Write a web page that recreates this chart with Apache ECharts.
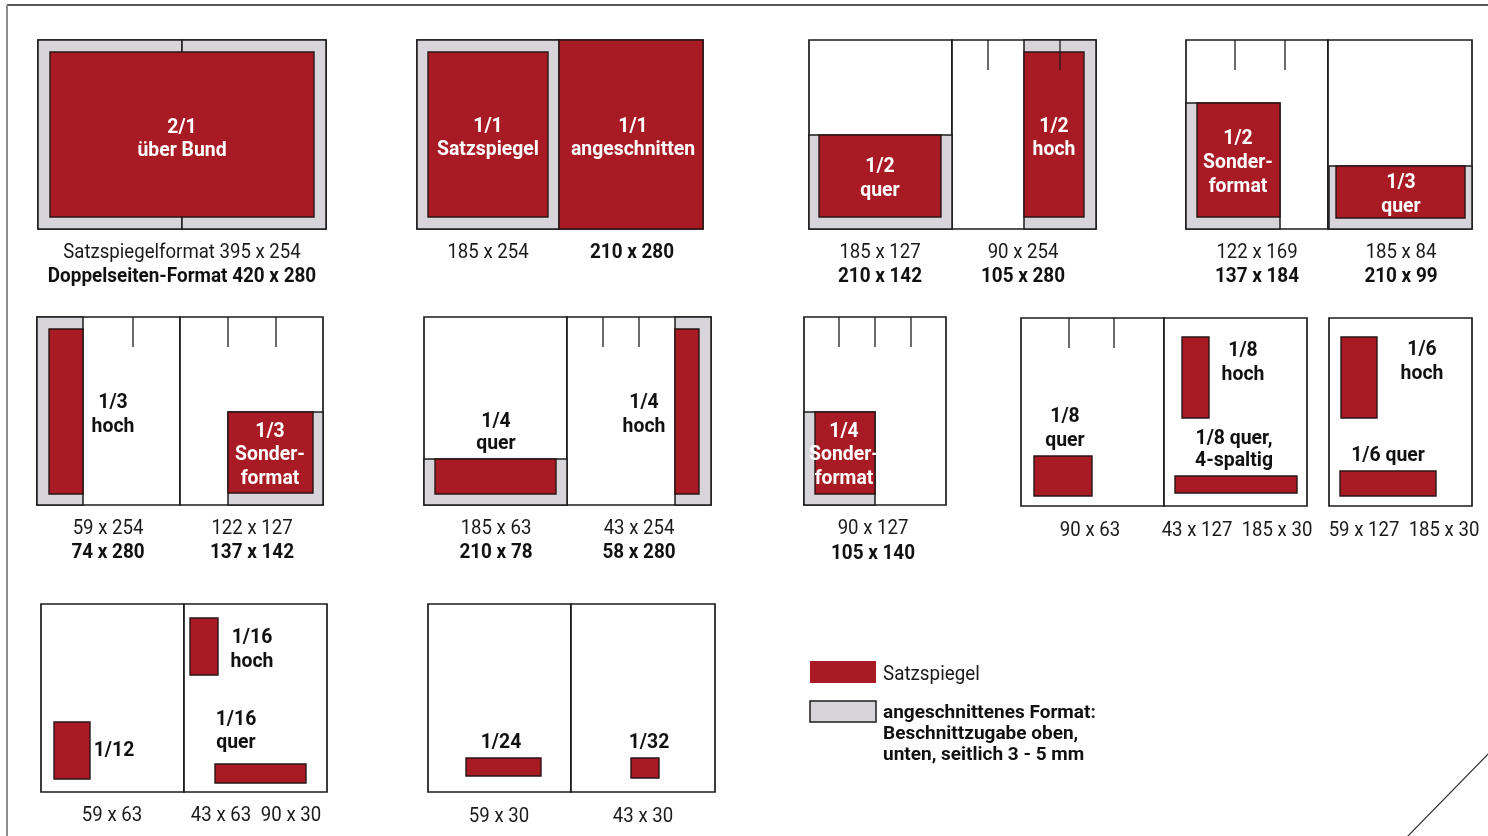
<!DOCTYPE html>
<html><head><meta charset="utf-8">
<script src="https://cdn.jsdelivr.net/npm/echarts@6/dist/echarts.min.js"></script>
<style>html,body{margin:0;padding:0;background:#fff}#c{width:1488px;height:836px}</style>
</head><body><div id="c"></div>
<script>
// ---- diagram data (units = layout grid of the sheet) ----
const pages = [
  [38,40,182,229],[182,40,326,229],
  [417,40,559,229],[559,40,703,229],
  [809,40,952,229],[952,40,1096,229],
  [1186,40,1328,229],[1328,40,1472,229],
  [37,317,180,505],[180,317,323,505],
  [424,317,567,505],[567,317,711,505],
  [804,317,946,505],
  [1021,318,1164,506],[1164,318,1307,506],
  [1329,318,1472,506],
  [41,604,184,792],[184,604,327,792],
  [428,604,571,792],[571,604,715,792]
];
const bleedAreas = [
  [38,40,182,229],[182,40,326,229],
  [417,40,559,229],
  [809,135,952,229],
  [1024,40,1096,229],
  [1186,103,1280,229],
  [1329,166,1472,229],
  [37,317,83,505],
  [228,412,323,505],
  [424,459,567,505],
  [675,317,711,505],
  [804,412,875,505]
];
const typeAreas = [
  [50,52,314,217],
  [428,52,548,217],
  [559,40,703,229],
  [819,135,941,217],
  [1024,52,1084,217],
  [1197,103,1280,217],
  [1336,166,1465,218],
  [49,329,83,494],
  [228,412,313,493],
  [435,459,556,494],
  [675,329,699,494],
  [815,412,875,494],
  [1034,456,1092,496],
  [1182,337,1209,418],
  [1175,476,1297,493],
  [1341,337,1377,418],
  [1340,471,1436,496],
  [54,722,90,779],
  [190,618,218,675],
  [215,764,306,783],
  [466,758,541,776],
  [631,758,659,778]
];
const columnTicks = [
  [988,40,70],[1060,40,70],
  [1235,40,70],[1285,40,70],
  [133,317,347],[228,317,347],[276,317,347],
  [603,317,347],[639,317,347],
  [839,317,347],[875,317,347],[911,317,347],
  [1069,318,348],[1114,318,348]
];
const labelsOnRed = [
  [182,133,"2/1"],[182,156,"über Bund"],
  [488,132,"1/1"],[488,155,"Satzspiegel"],
  [633,132,"1/1"],[633,155,"angeschnitten"],
  [880,172,"1/2"],[880,196,"quer"],
  [1054,132,"1/2"],[1054,155,"hoch"],
  [1238,144,"1/2"],[1238,168,"Sonder-"],[1238,192,"format"],
  [1401,188,"1/3"],[1401,212,"quer"],
  [270,437,"1/3"],[270,460,"Sonder-"],[270,484,"format"],
  [844,437,"1/4"],[844,460,"Sonder-"],[844,484,"format"]
];
const labelsOnPage = [
  [113,408,"1/3"],[113,432,"hoch"],
  [496,427,"1/4"],[496,449,"quer"],
  [644,408,"1/4"],[644,432,"hoch"],
  [1065,422,"1/8"],[1065,446,"quer"],
  [1243,356,"1/8"],[1243,380,"hoch"],
  [1234,444,"1/8 quer,"],[1234,466,"4-spaltig"],
  [1422,355,"1/6"],[1422,379,"hoch"],
  [1388,461,"1/6 quer"],
  [114,756,"1/12"],
  [252,643,"1/16"],[252,667,"hoch"],
  [236,725,"1/16"],[236,748,"quer"],
  [501,748,"1/24"],
  [649,748,"1/32"]
];
const typeSizeLabels = [
  [182,258,"Satzspiegelformat 395 x 254"],
  [488,258,"185 x 254"],
  [880,258,"185 x 127"],[1023,258,"90 x 254"],
  [1257,258,"122 x 169"],[1401,258,"185 x 84"],
  [108,534,"59 x 254"],[252,534,"122 x 127"],
  [496,534,"185 x 63"],[639,534,"43 x 254"],
  [873,534,"90 x 127"],
  [1090,536,"90 x 63"],[1197,536,"43 x 127"],[1277,536,"185 x 30"],
  [1364,536,"59 x 127"],[1444,536,"185 x 30"],
  [112,821,"59 x 63"],[221,821,"43 x 63"],[291,821,"90 x 30"],
  [499,822,"59 x 30"],[643,822,"43 x 30"]
];
const trimSizeLabels = [
  [182,282,"Doppelseiten-Format 420 x 280"],
  [632,258,"210 x 280"],
  [880,282,"210 x 142"],[1023,282,"105 x 280"],
  [1257,282,"137 x 184"],[1401,282,"210 x 99"],
  [108,558,"74 x 280"],[252,558,"137 x 142"],
  [496,558,"210 x 78"],[639,558,"58 x 280"],
  [873,559,"105 x 140"]
];
const legendTypeSwatch = [[810,661,876,683]];
const legendBleedSwatch = [[810,701,876,722]];
const legendTypeText = [[883,680,"Satzspiegel"]];
const legendBleedText = [[883,718,"angeschnittenes Format:"],[883,739,"Beschnittzugabe oben,"],[883,760,"unten, seitlich 3 - 5 mm"]];
const frameTop = [[7,5,1488,5]];
const frameLeft = [[7,5,7,836]];
const cornerCut = [[1407,837,1491,751]];

// ---- rendering ----
const RED = '#a91b24', GREY = '#d7d5da', INK = '#1c1c1c';
const FONT = 'Roboto, "Liberation Sans", sans-serif';

function rectSeries(arr, style, z) {
  return {
    type: 'custom', coordinateSystem: 'cartesian2d', z: z, silent: true,
    data: arr.map(r => [r[0], r[1], r[2], r[3]]),
    encode: { x: [0, 2], y: [1, 3] },
    renderItem: function (params, api) {
      const a = api.coord([api.value(0), api.value(1)]);
      const b = api.coord([api.value(2), api.value(3)]);
      return { type: 'rect', shape: { x: a[0], y: a[1], width: b[0] - a[0], height: b[1] - a[1] }, style: style };
    }
  };
}
function lineSeries(arr, style, z) {
  return {
    type: 'custom', coordinateSystem: 'cartesian2d', z: z, silent: true,
    data: arr.map(r => [r[0], r[1], r[2], r[3]]),
    encode: { x: [0, 2], y: [1, 3] },
    renderItem: function (params, api) {
      const a = api.coord([api.value(0), api.value(1)]);
      const b = api.coord([api.value(2), api.value(3)]);
      return { type: 'line', shape: { x1: a[0], y1: a[1], x2: b[0], y2: b[1] }, style: style };
    }
  };
}
function textSeries(arr, opt, z) {
  return {
    type: 'custom', coordinateSystem: 'cartesian2d', z: z, silent: true,
    data: arr.map(r => [r[0], r[1]]),
    encode: { x: 0, y: 1 },
    renderItem: function (params, api) {
      const p = api.coord([api.value(0), api.value(1)]);
      return {
        type: 'text', x: p[0], y: p[1] - 0.25 * opt.size, scaleX: opt.sx,
        style: { text: arr[params.dataIndex][2], fill: opt.color,
                 font: opt.weight + ' ' + opt.size + 'px ' + FONT,
                 align: opt.align || 'center', verticalAlign: 'middle' }
      };
    }
  };
}

const chart = echarts.init(document.getElementById('c'), null, { renderer: 'canvas' });
chart.setOption({
  animation: false,
  backgroundColor: '#ffffff',
  grid: { left: 0, right: 0, top: 0, bottom: 0 },
  xAxis: { type: 'value', min: 0, max: 1488, show: false },
  yAxis: { type: 'value', min: 0, max: 836, inverse: true, show: false },
  series: [
    lineSeries(frameTop, { stroke: '#222', lineWidth: 1.4 }, 1),
    lineSeries(frameLeft, { stroke: '#8c8c8c', lineWidth: 2 }, 1),
    lineSeries(cornerCut, { stroke: '#333', lineWidth: 1.2 }, 1),
    rectSeries(pages, { fill: '#fff', stroke: INK, lineWidth: 1.7 }, 2),
    rectSeries(bleedAreas, { fill: GREY, stroke: INK, lineWidth: 1.5 }, 3),
    rectSeries(typeAreas, { fill: RED, stroke: '#2a1416', lineWidth: 1.4 }, 4),
    lineSeries(columnTicks.map(t => [t[0], t[1], t[0], t[2]]), { stroke: INK, lineWidth: 1.3 }, 5),
    rectSeries(legendTypeSwatch, { fill: RED }, 4),
    rectSeries(legendBleedSwatch, { fill: GREY, stroke: INK, lineWidth: 1.5 }, 4),
    textSeries(labelsOnRed, { size: 20, weight: 'bold', color: '#ffffff', sx: 0.97 }, 6),
    textSeries(labelsOnPage, { size: 20, weight: 'bold', color: '#111111', sx: 0.97 }, 6),
    textSeries(typeSizeLabels, { size: 20, weight: 'normal', color: '#1a1a1a', sx: 0.93 }, 6),
    textSeries(trimSizeLabels, { size: 20, weight: 'bold', color: '#111111', sx: 0.945 }, 6),
    textSeries(legendTypeText, { size: 20, weight: 'normal', color: '#1a1a1a', sx: 0.94, align: 'left' }, 6),
    textSeries(legendBleedText, { size: 19, weight: 'bold', color: '#111111', sx: 1.0, align: 'left' }, 6)
  ]
});
</script></body></html>
